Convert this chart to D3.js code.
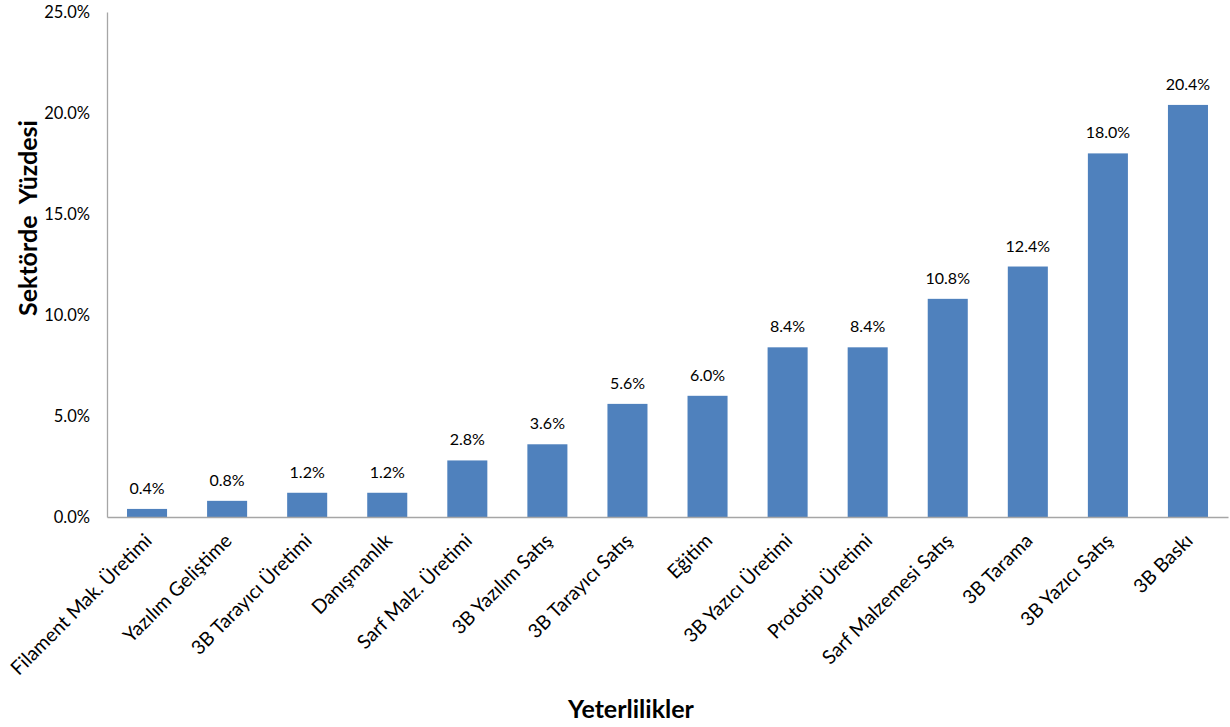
<!DOCTYPE html>
<html>
<head>
<meta charset="utf-8">
<script src="https://cdn.jsdelivr.net/npm/d3@7"></script>
<style>
  html, body { margin: 0; padding: 0; background: #fff; }
  svg { display: block; font-family: Lato, "Open Sans", sans-serif; }
</style>
</head>
<body>
<svg id="chart" width="1230" height="727"></svg>
<script>
// Sector competences and their share in the sector (%)
const categories = [
  "Filament Mak. Üretimi", "Yazılım Geliştime", "3B Tarayıcı Üretimi", "Danışmanlık",
  "Sarf Malz. Üretimi", "3B Yazılım Satış", "3B Tarayıcı Satış", "Eğitim",
  "3B Yazıcı Üretimi", "Prototip Üretimi", "Sarf Malzemesi Satış", "3B Tarama",
  "3B Yazıcı Satış", "3B Baskı"
];
const values = [0.4, 0.8, 1.2, 1.2, 2.8, 3.6, 5.6, 6.0, 8.4, 8.4, 10.8, 12.4, 18.0, 20.4];
const yTicks = [0, 5, 10, 15, 20, 25];
const yTitle = "Sektörde  Yüzdesi";
const xTitle = "Yeterlilikler";

const svg = d3.select("#chart");
const plotLeft = 107, plotRight = 1228, plotTop = 12, plotBottom = 517;
const fontStack = "Lato, 'Open Sans', sans-serif";

const x = d3.scaleBand().domain(categories).range([plotLeft, plotRight]).paddingInner(0.5).paddingOuter(0.25);
const y = d3.scaleLinear().domain([0, 25]).range([plotBottom, plotTop]);

// Bars
svg.append("g").selectAll("rect").data(values).join("rect")
  .attr("x", (d, i) => x(categories[i]))
  .attr("width", x.bandwidth())
  .attr("y", d => y(d))
  .attr("height", d => y(0) - y(d))
  .attr("fill", "#4f81bd");

// Value labels
svg.append("g").selectAll("text").data(values).join("text")
  .attr("x", (d, i) => x(categories[i]) + x.bandwidth() / 2)
  .attr("y", d => y(d) - 15)
  .attr("text-anchor", "middle")
  .attr("font-size", 16)
  .attr("fill", "#000")
  .text(d => d.toFixed(1) + "%");

// Y axis
const yAxis = svg.append("g").attr("transform", `translate(${plotLeft},0)`)
  .call(d3.axisLeft(y).tickValues(yTicks).tickSize(0).tickPadding(17).tickFormat(d => d.toFixed(1) + "%"));
yAxis.select(".domain").attr("stroke", "#a6a6a6").attr("stroke-width", 1.3);
yAxis.selectAll("text").attr("font-size", 16.5).attr("fill", "#000").attr("font-family", fontStack);

// X axis
const xAxis = svg.append("g").attr("transform", `translate(0,${plotBottom})`)
  .call(d3.axisBottom(x).tickSize(0).tickPadding(0));
xAxis.select(".domain").attr("stroke", "#a6a6a6").attr("stroke-width", 1.3);
xAxis.selectAll("text")
  .attr("font-size", 19.5)
  .attr("fill", "#000")
  .attr("font-family", fontStack)
  .attr("text-anchor", "end")
  .attr("dy", 0)
  .attr("transform", "translate(6,25) rotate(-45)");

// Axis titles
svg.append("text")
  .attr("transform", "translate(37,218) rotate(-90)")
  .attr("text-anchor", "middle")
  .attr("font-size", 25)
  .attr("font-weight", "bold")
  .style("white-space", "pre")
  .text(yTitle);

svg.append("text")
  .attr("x", 631)
  .attr("y", 718)
  .attr("text-anchor", "middle")
  .attr("font-size", 25)
  .attr("font-weight", "bold")
  .text(xTitle);
</script>
</body>
</html>
